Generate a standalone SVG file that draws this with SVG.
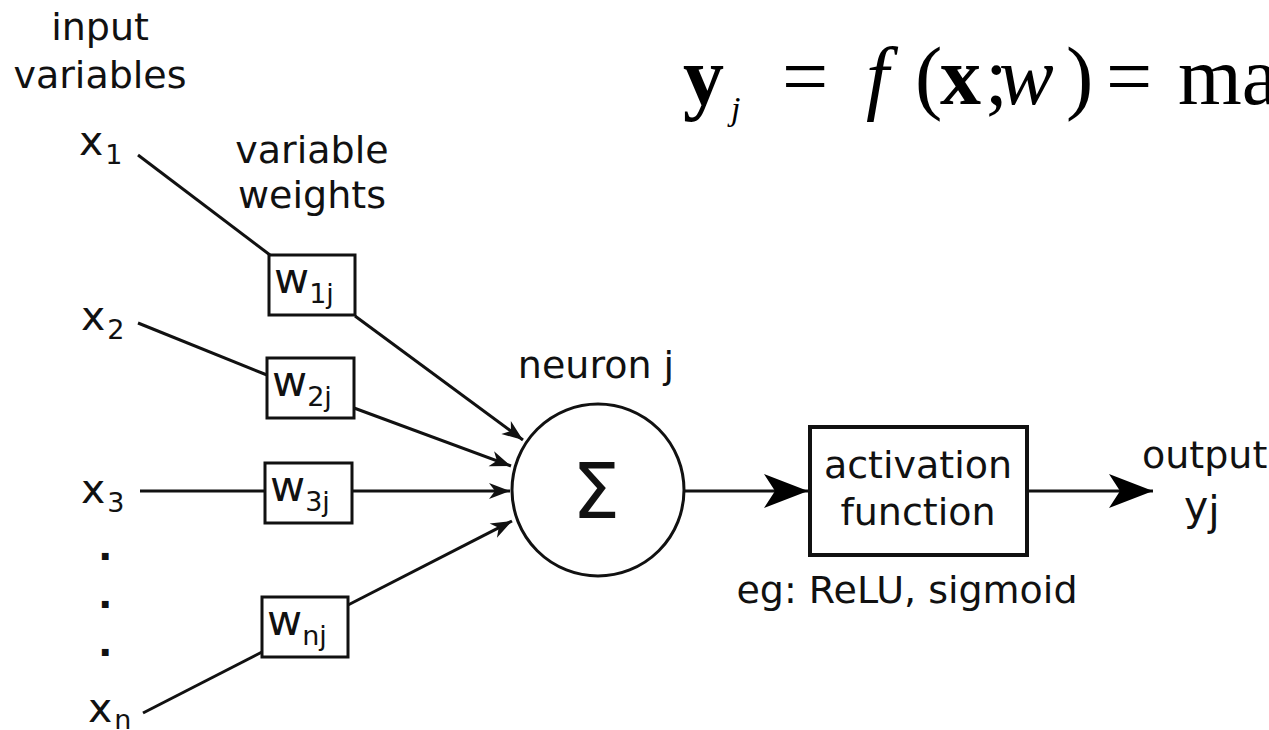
<svg xmlns="http://www.w3.org/2000/svg" width="1269" height="730" viewBox="0 0 1269 730">
<style>
.t{font-family:"DejaVu Sans",sans-serif;font-size:38px;fill:#111}
.v{font-size:41px}
.w{font-size:43px}
.s{font-size:27px}
.c{text-anchor:middle}
.box{fill:#fff;stroke:#111;stroke-width:3}
.ln{fill:none;stroke:#111;stroke-width:3}
.eq{font-family:"Liberation Serif",serif;font-size:82px;fill:#000}
</style>
<defs>
<marker id="sm" markerUnits="userSpaceOnUse" markerWidth="30" markerHeight="20" viewBox="-22 -10 24 20" refX="0" refY="0" orient="auto">
<path d="M0,0 L-21,-8 L-15,0 L-21,8 Z" fill="#111"/>
</marker>
<marker id="big" markerUnits="userSpaceOnUse" markerWidth="50" markerHeight="40" viewBox="-45 -20 47 40" refX="0" refY="0" orient="auto">
<path d="M0,0 L-44,-17 L-33,0 L-44,17 Z" fill="#000"/>
</marker>
</defs>
<rect width="1269" height="730" fill="#fff"/>

<g id="formula">
<text class="eq" y="104"><tspan x="683" font-weight="bold">y</tspan><tspan x="731" y="120" font-style="italic" style="font-size:34px">j</tspan><tspan x="782" y="104">=</tspan><tspan x="866" font-style="italic">f</tspan><tspan x="915">(</tspan><tspan x="940" font-weight="bold">x</tspan><tspan x="985">;</tspan><tspan x="999" font-style="italic">w</tspan><tspan x="1066">)</tspan><tspan x="1106">=</tspan><tspan x="1178">ma</tspan></text>
</g>

<g id="connectors">
<line class="ln" x1="138" y1="155" x2="270" y2="255"/>
<line class="ln" x1="138" y1="323" x2="267" y2="375"/>
<line class="ln" x1="140" y1="491" x2="265" y2="491"/>
<line class="ln" x1="143" y1="713" x2="262" y2="652"/>
<line class="ln" x1="355" y1="316" x2="523" y2="440" marker-end="url(#sm)"/>
<line class="ln" x1="354" y1="408" x2="511" y2="466" marker-end="url(#sm)"/>
<line class="ln" x1="352" y1="491" x2="510" y2="491" marker-end="url(#sm)"/>
<line class="ln" x1="348" y1="605" x2="512" y2="521" marker-end="url(#sm)"/>
<line class="ln" x1="684" y1="491" x2="808" y2="491" marker-end="url(#big)"/>
<line class="ln" x1="1027" y1="491" x2="1153" y2="491" marker-end="url(#big)"/>
</g>

<g id="input-label">
<text class="t c" x="100" y="40">input</text>
<text class="t c" x="100" y="88">variables</text>
</g>
<g id="weights-label">
<text class="t c" x="312" y="163">variable</text>
<text class="t c" x="312" y="208">weights</text>
</g>

<g id="x1"><text class="t v" x="79" y="155">x<tspan class="s" dx="2" y="164">1</tspan></text></g>
<g id="x2"><text class="t v" x="81" y="330">x<tspan class="s" dx="2" y="339">2</tspan></text></g>
<g id="x3"><text class="t v" x="81" y="503">x<tspan class="s" dx="2" y="512">3</tspan></text></g>
<g id="dots">
<text class="t" x="98" y="560" font-weight="bold">.</text>
<text class="t" x="98" y="608" font-weight="bold">.</text>
<text class="t" x="98" y="656" font-weight="bold">.</text>
</g>
<g id="xn"><text class="t v" x="88" y="722">x<tspan class="s" dx="2" y="729">n</tspan></text></g>

<g id="w1j">
<rect class="box" x="269" y="255" width="86" height="60"/>
<text class="t w" x="274" y="293">w<tspan class="s" y="303">1j</tspan></text>
</g>
<g id="w2j">
<rect class="box" x="267" y="358" width="87" height="60"/>
<text class="t w" x="272" y="396">w<tspan class="s" y="406">2j</tspan></text>
</g>
<g id="w3j">
<rect class="box" x="265" y="463" width="87" height="60"/>
<text class="t w" x="270" y="501">w<tspan class="s" y="511">3j</tspan></text>
</g>
<g id="wnj">
<rect class="box" x="262" y="597" width="86" height="60"/>
<text class="t w" x="267" y="635">w<tspan class="s" y="645">nj</tspan></text>
</g>

<g id="neuron">
<text class="t c" x="596" y="378">neuron j</text>
<circle cx="598" cy="490" r="86" fill="#fff" stroke="#111" stroke-width="3"/>
<text class="t c" x="596" y="518" style="font-size:76px">Σ</text>
</g>

<g id="activation">
<rect x="810" y="427" width="217" height="128" fill="#fff" stroke="#111" stroke-width="4"/>
<text class="t c" x="918" y="478">activation</text>
<text class="t c" x="918" y="525">function</text>
<text class="t c" x="907" y="603">eg: ReLU, sigmoid</text>
</g>

<g id="output">
<text class="t" x="1142" y="468">output</text>
<text class="t v" x="1184" y="520">y<tspan dy="5">j</tspan></text>
</g>
</svg>
